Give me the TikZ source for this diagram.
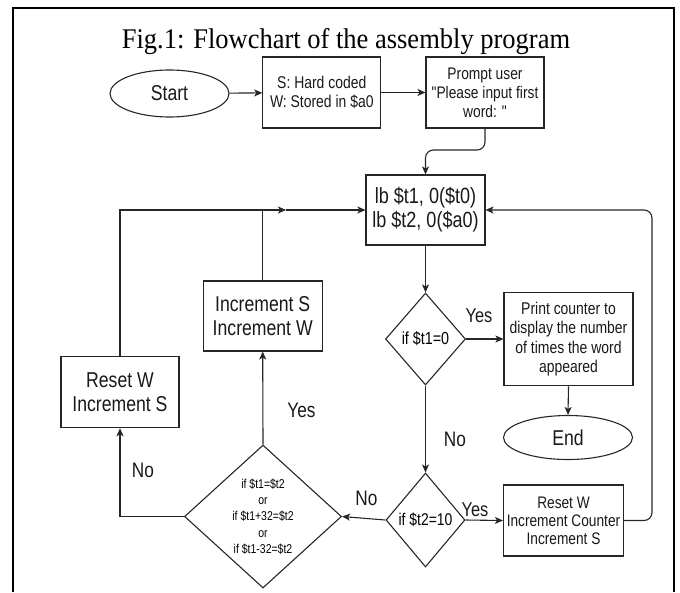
\documentclass[tikz,border=0pt]{standalone}
\usepackage{fontspec}
\setmainfont{Liberation Sans}
\newfontfamily\nsans[FakeStretch=0.82]{Liberation Sans}
\newfontfamily\tserif[FakeStretch=0.93]{Liberation Serif}
\usetikzlibrary{shapes.geometric,arrows.meta}
\begin{document}
\begin{tikzpicture}[x=1pt,y=-1pt,
  box/.style={draw=black!85, line width=1.1pt, rectangle, inner sep=0pt, align=center, text=black!90},
  ell/.style={draw=black!85, line width=1.1pt, ellipse, inner sep=0pt, align=center, text=black!90},
  dia/.style={draw=black!85, line width=1.1pt, diamond, inner sep=0pt},
  arr/.style={-{Stealth[length=8pt,width=7pt,inset=2pt]}, line width=1.1pt, draw=black!85},
  con/.style={line width=1.1pt, draw=black!85},
  lab/.style={font=\nsans\fontsize{21}{24}\selectfont, text=black!90},
  f17/.style={font=\nsans\fontsize{17}{19.5}\selectfont},
  f21/.style={font=\nsans\fontsize{21.5}{23.5}\selectfont}]
\useasboundingbox (0,0) rectangle (680,592);
\draw[line width=2pt] (12.5,592) -- (12.5,7.5) -- (674,7.5) -- (674,592);
\node[font=\tserif\fontsize{28.5}{30}\selectfont, anchor=base] (title) at (346,48) {Fig.1: Flowchart of the assembly program};

\node[ell, minimum width=119pt, minimum height=47pt, f21] (start) at (169.5,93.5) {Start};
\node[box, minimum width=118pt, minimum height=71pt, f17] (b1) at (321.8,92.5) {S: Hard coded\\W: Stored in \$a0};
\node[box, minimum width=118pt, minimum height=71pt, font=\nsans\fontsize{16.8}{19}\selectfont] (b2) at (485,92.5) {Prompt user\\"Please input first\\word: "};
\node[box, minimum width=119pt, minimum height=70pt, font=\nsans\fontsize{22}{24}\selectfont] (lb) at (425.5,210) {lb \$t1, 0(\$t0)\\lb \$t2, 0(\$a0)};
\node[box, minimum width=119pt, minimum height=70pt, f21] (inc) at (262.7,316) {Increment S\\Increment W};
\node[box, minimum width=118pt, minimum height=71pt, f21] (reset) at (120,392.2) {Reset W\\Increment S};
\node[dia, minimum width=80pt, minimum height=92pt] (d1) at (425.5,339) {};
\node[font=\nsans\fontsize{17.5}{20}\selectfont] (t1) at (d1.center) {if \$t1=0};
\node[box, minimum width=129pt, minimum height=93.5pt, f17] (print) at (568.5,339) {Print counter to\\display the number\\of times the word\\appeared};
\node[ell, minimum width=129pt, minimum height=44pt, f21] (endn) at (568,437.5) {End};
\node[dia, minimum width=79pt, minimum height=94pt] (d2) at (425.5,520) {};
\node[font=\nsans\fontsize{17}{20}\selectfont] (t2) at (d2.center) {if \$t2=10};
\node[box, minimum width=120pt, minimum height=71pt, font=\nsans\fontsize{16.7}{18}\selectfont] (rc) at (563.5,520.5) {Reset W\\Increment Counter\\Increment S};
\node[dia, minimum width=157pt, minimum height=143pt] (d3) at (263,516.5) {};
\node[font=\nsans\fontsize{12.8}{16.4}\selectfont, align=center] (t3) at (d3.center) {if \$t1=\$t2\\or\\if \$t1+32=\$t2\\or\\if \$t1-32=\$t2};

\coordinate (k1) at (0,150);
\coordinate (k2) at (652,210);
\coordinate (j2) at (286,210);

\draw[arr] (start) -- (b1);
\draw[arr] (b1) -- (b2);
\draw[arr, rounded corners=8pt] (b2.south) |- (lb.north |- k1) -- (lb.north);
\draw[arr] (lb.south) -- (d1.north);
\draw[arr] (d1.east) -- (print.west);
\draw[arr] (print.south) -- (endn.north);
\draw[arr] (d1.south) -- (d2.north);
\draw[arr] (d2.east) -- (rc.west);
\draw[arr, rounded corners=8pt] (rc.east) -| (k2) -- (lb.east);
\draw[arr] (d2.west) -- (d3.east);
\draw[arr] (d3.north) -- (inc.south);
\draw[arr] (d3.west) -| (reset.south);
\draw[arr] (reset.north) |- (j2);
\draw[arr] (j2) -- (lb.west);
\draw[con] (inc.north) -- (inc.north |- j2);

\node[lab, font=\nsans\fontsize{20}{24}\selectfont] (y1) at (479,316) {Yes};
\node[lab] (n1) at (455,439) {No};
\node[lab, font=\nsans\fontsize{20}{24}\selectfont] (y2) at (475,510) {Yes};
\node[lab] (n2) at (366.5,498) {No};
\node[lab] (y3) at (301.5,410) {Yes};
\node[lab] (n3) at (143,470) {No};
\end{tikzpicture}
\end{document}
